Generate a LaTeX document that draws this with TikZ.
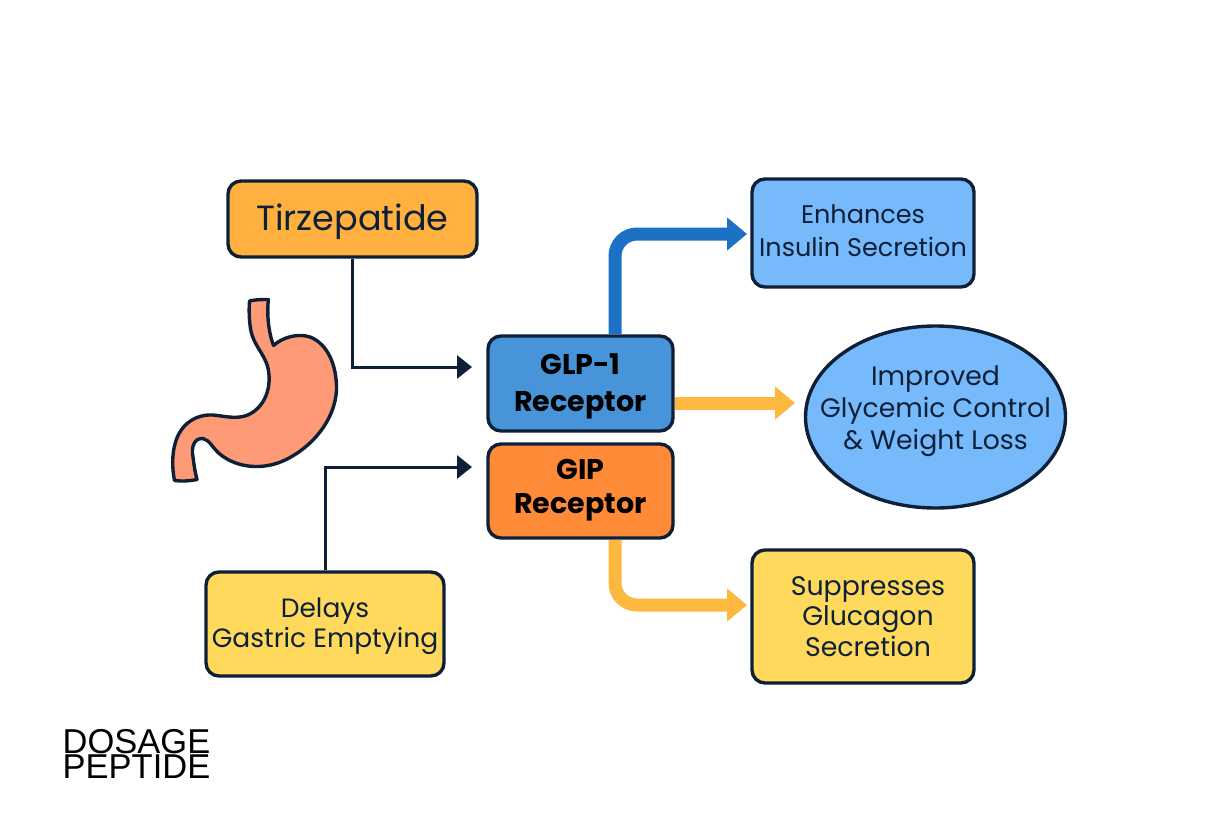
\documentclass[tikz,border=0pt]{standalone}
\usepackage{fontspec}
\setmainfont{Poppins}
\newfontfamily\logofont{Liberation Sans}
\usetikzlibrary{arrows.meta,shapes.geometric}
\definecolor{ink}{HTML}{0E2038}
\definecolor{skyfill}{HTML}{76BAFB}
\definecolor{sunfill}{HTML}{FFD95B}
\definecolor{amberfill}{HTML}{FFB03F}
\definecolor{amberline}{HTML}{FDB840}
\definecolor{glpfill}{HTML}{4795D8}
\definecolor{gipfill}{HTML}{FF8A38}
\definecolor{blueline}{HTML}{1C71C4}
\definecolor{stomachfill}{HTML}{FF9A76}
\tikzset{
  x=1pt,y=-1pt,
  boxstyle/.style={draw=ink,line width=3.4pt,rounded corners=13pt,inner sep=0pt},
  textlabel/.style={align=center,text=ink,inner sep=0pt},
  boldlabel/.style={align=center,text=black,inner sep=0pt},
  thinarrow/.style={draw=ink,line width=3pt,-{Triangle[length=15pt,width=23pt]}},
  fatarrow/.style={line width=13pt,rounded corners=22pt,-{Triangle[length=20pt,width=32pt]}}
}
\begin{document}
\begin{tikzpicture}
\useasboundingbox (0,0) rectangle (1220,838);
% stomach
\draw[draw=ink,line width=3.4pt,fill=stomachfill,line join=round]
 (249.5,301) .. controls (256,299.5) and (262,299.5) .. (268.3,299.5)
 .. controls (267,315) and (268,330) .. (273.5,345.5)
 .. controls (283,337) and (298,333) .. (310,337)
 .. controls (328,344) and (337,366) .. (336.5,390)
 .. controls (335,420) and (312,448) .. (283,461)
 .. controls (262,470) and (238,468) .. (221,455)
 .. controls (213,449) and (210,440) .. (203,438.5)
 .. controls (194,438) and (191,447) .. (193,457)
 .. controls (194,465) and (195,472) .. (197,479.5)
 .. controls (190,481) and (182,481.5) .. (174.5,480.5)
 .. controls (172,468) and (172,455) .. (175,444)
 .. controls (180,424) and (196,414) .. (213,415)
 .. controls (224,416) and (234,419) .. (245,416)
 .. controls (261,411) and (273,392) .. (268,368)
 .. controls (264,352) and (252,345) .. (250,325)
 .. controls (249,316) and (249,308) .. (249.5,301) -- cycle;
% boxes
\node[boxstyle,fill=amberfill,minimum width=249pt,minimum height=76pt,
  label={[textlabel,font=\fontsize{35}{40}\selectfont,yshift=-3pt]center:{Tirzepatide}}] (tirz) at (352.5,219) {};
\node[boxstyle,fill=glpfill,minimum width=185pt,minimum height=95pt,
  label={[boldlabel,font=\fontsize{28.5}{37}\selectfont\bfseries,yshift=-3pt]center:{GLP-1\\Receptor}}] (glp) at (580.5,383.5) {};
\node[boxstyle,fill=gipfill,minimum width=185pt,minimum height=94pt,
  label={[boldlabel,font=\fontsize{28.5}{34}\selectfont\bfseries,yshift=1pt]center:{GIP\\Receptor}}] (gip) at (580.5,491) {};
\node[boxstyle,fill=sunfill,minimum width=238pt,minimum height=104pt,
  label={[textlabel,font=\fontsize{26.5}{30}\selectfont,yshift=-2pt]center:{Delays\\Gastric Emptying}}] (delay) at (325,624) {};
\node[boxstyle,fill=skyfill,minimum width=222pt,minimum height=108pt,
  label={[textlabel,font=\fontsize{25.5}{33}\selectfont,yshift=2pt]center:{Enhances\\Insulin Secretion}}] (insulin) at (863,233) {};
\node[draw=ink,line width=3.4pt,ellipse,fill=skyfill,minimum width=260pt,minimum height=182pt,inner sep=0pt,
  label={[textlabel,font=\fontsize{26.7}{32}\selectfont,yshift=6pt]center:{Improved\\Glycemic Control\\\& Weight Loss}}] (control) at (935.5,417) {};
\node[boxstyle,fill=sunfill,minimum width=222pt,minimum height=133pt,
  label={[textlabel,font=\fontsize{26.8}{30.5}\selectfont,xshift=5pt]center:{Suppresses\\Glucagon\\Secretion}}] (glucagon) at (863,616.5) {};
\node[inner sep=0pt,align=center,text=black,font=\logofont\fontsize{34.5}{23}\selectfont] (logo) at (136.5,754) {DOSAGE\\PEPTIDE};
% free ends
\coordinate (glpin) at (472,367);
\coordinate (gipin) at (472,467);
\coordinate (insulinin) at (747,234);
\coordinate (controlin) at (795,403);
\coordinate (glucagonin) at (747,605);
\coordinate (glpout) at (615,334);
\coordinate (gipout) at (615,540);
\coordinate (glpright) at (675,403);
% connectors
\draw[thinarrow] (tirz.south) |- (glpin);
\draw[thinarrow] (delay.north) |- (gipin);
\draw[fatarrow,draw=blueline] (glpout) |- (insulinin);
\draw[fatarrow,draw=amberline] (gipout) |- (glucagonin);
\draw[fatarrow,draw=amberline] (glpright) -- (controlin);
\end{tikzpicture}
\end{document}
